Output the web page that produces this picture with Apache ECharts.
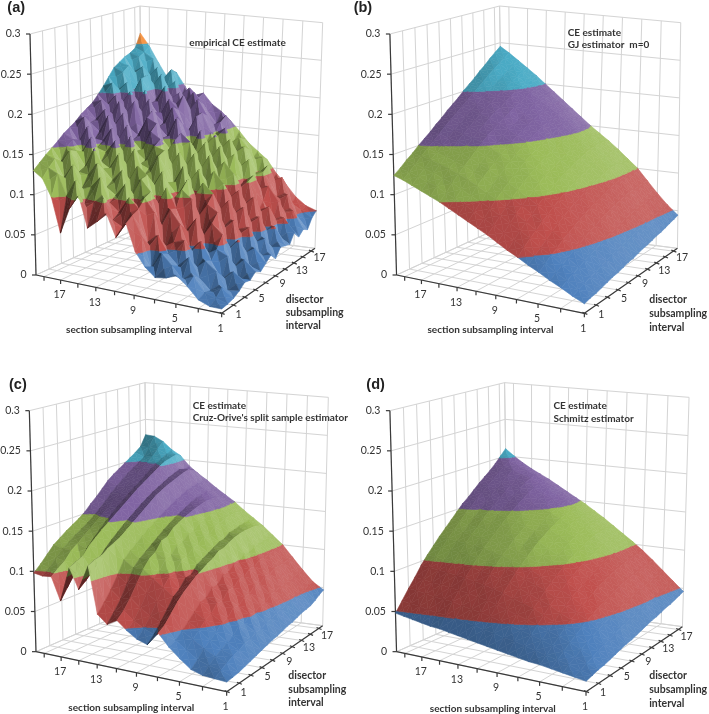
<!DOCTYPE html>
<html><head><meta charset="utf-8">
<style>html,body{margin:0;padding:0;background:#fff}#c{width:709px;height:714px}</style>
<script src="https://cdn.jsdelivr.net/npm/echarts@6/dist/echarts.min.js"></script>
</head><body><div id="c"></div>
<script>
// Rows: disector interval 1..20. Columns: section interval 1..20.
const sectionIntervals = [1,2,3,4,5,6,7,8,9,10,11,12,13,14,15,16,17,18,19,20];
const disectorIntervals = [1,2,3,4,5,6,7,8,9,10,11,12,13,14,15,16,17,18,19,20];
const labelledIntervals = [1,5,9,13,17];
const ceTicks = [0,0.05,0.1,0.15,0.2,0.25,0.3];
const ceTickLabels = ['0','0.05','0.1','0.15','0.2','0.25','0.3'];
const bandColors = ['#4F81BD','#C0504D','#9BBB59','#8064A2','#4BACC6','#F79646'];

const ceEmpirical = [
[.005,.005,.010,.023,.033,.028,.026,.036,.052,.084,.065,.091,.080,.070,.108,.090,.058,.100,.122,.130],
[.006,.010,.014,.030,.024,.038,.050,.030,.066,.090,.074,.080,.104,.098,.095,.122,.100,.126,.132,.137],
[.008,.018,.012,.024,.046,.034,.046,.066,.056,.094,.106,.086,.096,.126,.112,.108,.136,.118,.140,.144],
[.012,.010,.030,.040,.026,.060,.056,.042,.088,.104,.082,.118,.102,.110,.138,.122,.124,.150,.134,.150],
[.018,.028,.016,.036,.058,.044,.074,.090,.068,.108,.122,.096,.130,.116,.128,.152,.128,.146,.150,.156],
[.016,.012,.040,.046,.030,.080,.062,.088,.112,.086,.124,.134,.110,.146,.126,.130,.162,.142,.156,.163],
[.022,.034,.022,.060,.072,.052,.098,.108,.084,.128,.106,.118,.150,.124,.158,.142,.146,.172,.150,.168],
[.018,.022,.052,.038,.082,.090,.070,.118,.096,.110,.142,.124,.128,.162,.134,.170,.152,.150,.180,.173],
[.024,.040,.030,.070,.060,.100,.112,.088,.130,.106,.146,.150,.130,.140,.172,.148,.182,.160,.170,.180],
[.030,.026,.060,.056,.090,.072,.098,.124,.104,.142,.120,.156,.164,.138,.150,.184,.166,.186,.172,.185],
[.022,.044,.036,.080,.070,.106,.120,.096,.140,.118,.154,.132,.172,.178,.154,.162,.196,.172,.194,.190],
[.032,.030,.066,.060,.096,.084,.106,.136,.112,.150,.160,.136,.150,.186,.160,.194,.174,.200,.186,.198],
[.030,.052,.044,.086,.074,.112,.126,.104,.148,.128,.140,.176,.150,.160,.196,.172,.204,.186,.212,.207],
[.028,.034,.072,.066,.102,.092,.110,.142,.120,.160,.134,.166,.186,.164,.176,.204,.180,.212,.200,.217],
[.040,.056,.052,.074,.106,.096,.130,.116,.152,.138,.174,.150,.180,.192,.168,.184,.216,.192,.222,.227],
[.030,.040,.072,.090,.080,.122,.110,.146,.128,.152,.176,.156,.196,.174,.206,.186,.218,.204,.228,.232],
[.036,.058,.056,.078,.104,.100,.134,.124,.156,.148,.170,.190,.166,.196,.184,.218,.198,.226,.218,.237],
[.032,.048,.074,.070,.110,.096,.128,.142,.126,.160,.150,.182,.196,.172,.208,.192,.224,.210,.236,.240],
[.044,.052,.060,.092,.086,.116,.114,.138,.134,.166,.154,.170,.186,.198,.182,.220,.204,.232,.240,.245],
[.050,.055,.065,.080,.093,.110,.120,.130,.144,.157,.168,.176,.190,.178,.196,.214,.206,.225,.246,.263]
];
const ceGundersenJensen = [
[.011,.017,.024,.030,.037,.043,.050,.056,.063,.070,.076,.082,.088,.094,.100,.105,.110,.115,.120,.124],
[.013,.020,.028,.035,.043,.050,.058,.064,.071,.078,.084,.091,.097,.103,.108,.114,.118,.123,.127,.130],
[.014,.023,.032,.040,.049,.056,.065,.072,.079,.086,.093,.099,.105,.111,.117,.121,.126,.130,.134,.137],
[.016,.026,.035,.044,.054,.062,.071,.079,.087,.093,.101,.107,.114,.120,.125,.130,.134,.138,.141,.143],
[.018,.028,.039,.049,.060,.068,.078,.085,.093,.101,.108,.114,.121,.126,.132,.136,.140,.144,.148,.150],
[.020,.031,.042,.053,.064,.074,.083,.092,.100,.108,.115,.121,.128,.133,.139,.143,.147,.151,.154,.156],
[.021,.033,.045,.057,.069,.079,.089,.098,.106,.114,.121,.128,.134,.140,.146,.150,.154,.157,.161,.162],
[.023,.036,.048,.061,.073,.084,.094,.103,.112,.120,.127,.134,.141,.147,.153,.157,.161,.164,.168,.169],
[.025,.038,.051,.064,.077,.088,.099,.108,.117,.125,.133,.140,.146,.152,.159,.163,.167,.170,.174,.175],
[.026,.040,.054,.068,.081,.092,.103,.113,.121,.130,.138,.145,.152,.158,.164,.169,.173,.176,.180,.182],
[.028,.042,.056,.071,.084,.096,.107,.117,.125,.134,.142,.150,.157,.163,.169,.175,.179,.182,.186,.188],
[.030,.044,.058,.074,.087,.099,.110,.120,.129,.138,.146,.154,.161,.167,.174,.180,.184,.188,.192,.194],
[.031,.046,.061,.076,.090,.102,.113,.124,.133,.141,.150,.158,.165,.171,.179,.184,.189,.193,.198,.201],
[.033,.048,.063,.079,.093,.105,.116,.127,.136,.145,.153,.162,.169,.176,.183,.189,.194,.199,.204,.207],
[.035,.050,.065,.081,.095,.108,.119,.130,.139,.148,.157,.165,.173,.180,.187,.194,.199,.204,.210,.213],
[.036,.051,.066,.083,.097,.110,.121,.132,.142,.151,.160,.168,.176,.184,.191,.198,.204,.209,.216,.220],
[.038,.052,.067,.083,.098,.111,.122,.134,.143,.153,.162,.171,.179,.187,.195,.202,.208,.214,.222,.226],
[.040,.054,.068,.084,.099,.111,.123,.134,.144,.153,.163,.172,.180,.189,.197,.204,.212,.219,.227,.233],
[.042,.055,.069,.085,.100,.111,.123,.134,.143,.153,.162,.172,.181,.191,.199,.207,.216,.224,.232,.239],
[.044,.056,.070,.085,.100,.111,.122,.132,.141,.150,.160,.170,.180,.190,.200,.210,.219,.228,.237,.245]
];
const ceCruzOrive = [
[.011,.012,.013,.017,.027,.038,.052,.036,.040,.048,.058,.051,.061,.118,.087,.112,.069,.097,.096,.098],
[.012,.017,.020,.024,.033,.042,.058,.044,.049,.056,.066,.062,.072,.122,.094,.116,.082,.104,.103,.106],
[.013,.021,.026,.033,.041,.049,.068,.055,.060,.068,.078,.074,.084,.124,.102,.120,.094,.110,.112,.115],
[.015,.025,.030,.038,.048,.056,.078,.066,.074,.082,.092,.090,.098,.130,.114,.130,.106,.120,.121,.124],
[.017,.027,.034,.044,.056,.064,.086,.078,.087,.096,.106,.106,.114,.134,.124,.137,.121,.126,.126,.130],
[.019,.031,.038,.052,.060,.072,.092,.084,.097,.102,.116,.114,.122,.138,.132,.144,.130,.133,.132,.136],
[.021,.032,.046,.053,.069,.074,.098,.094,.099,.114,.121,.120,.128,.144,.139,.150,.138,.139,.137,.141],
[.023,.036,.045,.062,.068,.083,.102,.095,.111,.116,.132,.126,.135,.150,.146,.156,.146,.146,.142,.146],
[.025,.036,.052,.060,.078,.083,.107,.104,.112,.125,.134,.132,.141,.156,.152,.162,.153,.152,.148,.152],
[.026,.040,.051,.068,.077,.092,.110,.108,.120,.126,.142,.138,.146,.162,.158,.168,.160,.158,.155,.160],
[.028,.041,.056,.068,.085,.092,.116,.112,.121,.134,.146,.143,.151,.168,.164,.174,.166,.164,.162,.167],
[.030,.044,.056,.075,.084,.099,.117,.116,.128,.135,.150,.148,.156,.174,.169,.180,.172,.171,.170,.175],
[.031,.045,.062,.073,.091,.098,.121,.120,.128,.142,.153,.152,.160,.178,.174,.185,.178,.177,.177,.183],
[.033,.047,.062,.080,.090,.105,.124,.121,.135,.143,.156,.156,.165,.182,.178,.190,.183,.183,.183,.189],
[.035,.049,.065,.079,.096,.104,.126,.126,.136,.148,.158,.160,.168,.185,.182,.195,.189,.189,.189,.194],
[.036,.050,.065,.083,.095,.109,.127,.127,.140,.149,.160,.163,.172,.188,.186,.200,.195,.195,.194,.199],
[.037,.051,.066,.083,.097,.109,.127,.129,.141,.151,.160,.165,.174,.191,.189,.204,.200,.200,.199,.204],
[.040,.053,.067,.083,.098,.110,.127,.130,.142,.151,.160,.167,.176,.193,.192,.206,.204,.206,.204,.209],
[.044,.055,.069,.085,.099,.111,.125,.131,.141,.150,.158,.166,.176,.190,.190,.208,.208,.214,.215,.215],
[.047,.056,.070,.085,.100,.111,.122,.131,.140,.150,.158,.166,.175,.183,.192,.205,.212,.222,.228,.229]
];
const ceSchmitz = [
[.012,.014,.016,.018,.020,.021,.023,.025,.027,.029,.031,.033,.035,.037,.039,.040,.042,.044,.046,.048],
[.014,.017,.021,.024,.027,.030,.033,.036,.038,.041,.043,.046,.048,.050,.052,.053,.055,.057,.058,.060],
[.016,.021,.025,.030,.034,.038,.042,.045,.049,.052,.055,.058,.060,.062,.065,.066,.067,.069,.071,.072],
[.017,.024,.030,.036,.041,.045,.050,.054,.058,.062,.066,.069,.071,.074,.076,.077,.079,.080,.082,.083],
[.019,.027,.034,.041,.047,.052,.058,.064,.068,.072,.077,.080,.083,.085,.088,.089,.091,.092,.094,.095],
[.021,.030,.038,.046,.053,.059,.066,.071,.076,.081,.086,.089,.093,.095,.098,.099,.101,.102,.104,.105],
[.023,.032,.042,.051,.058,.065,.072,.079,.084,.089,.095,.098,.102,.104,.107,.109,.110,.111,.113,.114],
[.025,.035,.045,.055,.063,.071,.078,.085,.091,.097,.102,.106,.110,.113,.116,.117,.119,.120,.122,.123],
[.026,.038,.048,.059,.067,.076,.084,.091,.097,.103,.109,.113,.117,.120,.123,.125,.127,.128,.130,.131],
[.028,.040,.051,.062,.072,.080,.089,.097,.103,.109,.116,.119,.124,.127,.130,.132,.134,.135,.138,.139],
[.030,.042,.054,.065,.076,.084,.094,.102,.108,.115,.122,.125,.130,.134,.137,.139,.142,.143,.146,.147],
[.032,.044,.056,.068,.079,.088,.098,.106,.113,.120,.127,.131,.136,.140,.144,.146,.149,.150,.153,.155],
[.034,.046,.058,.071,.082,.092,.102,.110,.118,.125,.132,.136,.141,.146,.150,.152,.155,.157,.160,.161],
[.035,.048,.060,.073,.085,.095,.105,.114,.122,.129,.136,.141,.146,.151,.156,.158,.161,.164,.166,.168],
[.037,.049,.062,.075,.087,.098,.108,.117,.125,.133,.140,.146,.151,.156,.161,.164,.168,.170,.173,.175],
[.039,.050,.063,.076,.089,.100,.110,.120,.128,.136,.143,.149,.155,.160,.166,.170,.173,.176,.179,.181],
[.040,.052,.065,.078,.090,.101,.111,.121,.130,.138,.145,.152,.158,.164,.170,.175,.178,.182,.185,.187],
[.042,.054,.066,.079,.091,.102,.112,.122,.131,.139,.147,.154,.160,.167,.173,.179,.183,.188,.191,.194],
[.044,.056,.068,.080,.092,.102,.112,.122,.131,.139,.147,.154,.161,.168,.175,.181,.186,.191,.197,.202],
[.046,.058,.070,.082,.093,.103,.112,.121,.130,.138,.146,.153,.160,.167,.174,.180,.186,.193,.201,.210]
];

// Panel geometry is in local units (3 units = 1 px): cube corners and where each text sits.
const panels = [
 {tag:'(a)',values:ceEmpirical,ox:0,oy:0,F:[665,940],L:[108,825],R:[945,745],B:[428,678],TF:[676,160],TL:[90,102],TB:[420,18],TR:[968,68],
  tagPos:[22,25],note:['empirical CE estimate'],notePos:[568,127],notePitch:37,sec:[198,990],dis:[857,898],disPitch:40},
 {tag:'(b)',values:ceGundersenJensen,ox:355,oy:0,F:[690,940],L:[125,825],R:[970,745],B:[446,678],TF:[700,160],TL:[105,102],TB:[435,18],TR:[980,68],
  tagPos:[-4,25],note:['CE estimate','GJ estimator  m=0'],notePos:[640,98],notePitch:37,sec:[218,990],dis:[885,900],disPitch:41},
 {tag:'(c)',values:ceCruzOrive,ox:0,oy:360,F:[680,995],L:[108,875],R:[968,797],B:[443,728],TF:[690,212],TL:[88,152],TB:[435,68],TR:[985,112],
  tagPos:[27,75],note:['CE estimate',"Cruz-Orive's split sample estimator"],notePos:[578,136],notePitch:36,sec:[205,1043],dis:[865,948],disPitch:40},
 {tag:'(d)',values:ceSchmitz,ox:355,oy:360,F:[695,995],L:[125,875],R:[985,800],B:[460,728],TF:[705,212],TL:[105,152],TB:[450,68],TR:[1005,112],
  tagPos:[34,75],note:['CE estimate','Schmitz estimator'],notePos:[597,136],notePitch:40,sec:[225,1045],dis:[885,948],disPitch:41}
];
const maxCE = 0.3, heightScale = 80, N = 20;
const UI = 'Lato, "Open Sans", sans-serif';

function homography(p0,p1,p2,p3){
  const dx1=p1[0]-p2[0],dx2=p3[0]-p2[0],sx=p0[0]-p1[0]+p2[0]-p3[0];
  const dy1=p1[1]-p2[1],dy2=p3[1]-p2[1],sy=p0[1]-p1[1]+p2[1]-p3[1];
  const den=dx1*dy2-dx2*dy1;
  const g=(sx*dy2-dx2*sy)/den,h=(dx1*sy-sx*dy1)/den;
  const a=p1[0]-p0[0]+g*p1[0],b=p3[0]-p0[0]+h*p3[0];
  const d=p1[1]-p0[1]+g*p1[1],e=p3[1]-p0[1]+h*p3[1];
  return (u,v)=>{const w=g*u+h*v+1;return [(a*u+b*v+p0[0])/w,(d*u+e*v+p0[1])/w];};
}
panels.forEach(p=>{
  const floor=homography(p.F,p.L,p.B,p.R), top=homography(p.TF,p.TL,p.TB,p.TR);
  // s: section interval, d: disector interval, z: CE value
  p.project=(s,d,z)=>{
    const u=(s-1)/(N-1),v=(d-1)/(N-1),t=z/maxCE;
    const a=floor(u,v),b=top(u,v);
    return [a[0]+(b[0]-a[0])*t,a[1]+(b[1]-a[1])*t];
  };
});

function clipBand(poly,lo,hi){
  const cut=(pts,limit,keepAbove)=>{
    const out=[];
    for(let i=0;i<pts.length;i++){
      const a=pts[i],b=pts[(i+1)%pts.length];
      const ia=keepAbove?a[2]>=limit:a[2]<=limit, ib=keepAbove?b[2]>=limit:b[2]<=limit;
      if(ia)out.push(a);
      if(ia!==ib){const t=(limit-a[2])/(b[2]-a[2]);out.push([a[0]+(b[0]-a[0])*t,a[1]+(b[1]-a[1])*t,limit]);}
    }
    return out;
  };
  const x=cut(poly,lo,true);
  return x.length?cut(x,hi,false):x;
}
function hexRgb(h){return [1,3,5].map(i=>parseInt(h.substr(i,2),16));}
function shade(hex,f){
  const c=hexRgb(hex);
  const r=f<=1?c.map(v=>v*f):c.map(v=>v+(255-v)*Math.min(1,(f-1)*.8));
  return 'rgb('+r.map(Math.round).join(',')+')';
}
function lightOf(a,b,c){
  const ux=b[0]-a[0],uy=b[1]-a[1],uz=(b[2]-a[2])*heightScale,vx=c[0]-a[0],vy=c[1]-a[1],vz=(c[2]-a[2])*heightScale;
  let nx=uy*vz-uz*vy,ny=uz*vx-ux*vz,nz=ux*vy-uy*vx;
  const l=Math.hypot(nx,ny,nz)*(nz<0?-1:1);nx/=l;ny/=l;
  return Math.max(.35,Math.min(1.5,1+.5*((-nx*.8+ny*.6)-.24)));
}
function surfaceRenderer(panel){
  return (params,api)=>{
    const s=api.value(0),d=api.value(1),V=panel.values;
    const at=(i,j)=>[i,j,V[j-1][i-1]];
    const c00=at(s,d),c10=at(s+1,d),c11=at(s+1,d+1),c01=at(s,d+1);
    const mid=[s+.5,d+.5,(c00[2]+c10[2]+c11[2]+c01[2])/4];
    const tris=[[c11,c10,mid],[c01,c11,mid],[c00,c01,mid],[c10,c00,mid]];
    const children=[];
    tris.forEach(t=>{
      const f=lightOf(t[0],t[1],t[2]);
      bandColors.forEach((col,k)=>{
        const lo=ceTicks[k],hi=ceTicks[k+1];
        const poly=clipBand(t,lo,hi);
        if(poly.length<3)return;
        const pts=poly.map(q=>api.coord(panel.project(q[0],q[1],q[2])));
        const fill=shade(col,f);
        children.push({type:'polygon',shape:{points:pts},style:{fill:fill,stroke:fill,lineWidth:.6}});
      });
    });
    return {type:'group',children:children};
  };
}
function frameRenderer(panel){
  return (params,api)=>{
    const P=(s,d,z)=>api.coord(panel.project(s,d,z));
    const kids=[];
    const line=(a,b,stroke,w)=>kids.push({type:'line',shape:{x1:a[0],y1:a[1],x2:b[0],y2:b[1]},style:{stroke:stroke,lineWidth:w}});
    const grid='#d4d4d4';
    const tickCats=sectionIntervals.filter(v=>v%2===1).concat([N]);
    ceTicks.forEach(z=>{
      line(P(N,1,z),P(N,N,z),grid,1);
      line(P(N,N,z),P(1,N,z),grid,1);
    });
    tickCats.forEach(c=>{
      line(P(N,c,0),P(N,c,maxCE),grid,1);
      line(P(c,N,0),P(c,N,maxCE),grid,1);
      line(P(c,1,0),P(c,N,0),grid,1);
      line(P(1,c,0),P(N,c,0),grid,1);
    });
    const dark='#3a3a3a';
    line(P(N,1,0),P(N,1,maxCE),dark,1.2);
    line(P(1,1,0),P(N,1,0),dark,1.2);
    line(P(1,1,0),P(1,N,0),dark,1.2);
    ceTicks.forEach((z,i)=>{
      const a=P(N,1,z);
      line([a[0]-4,a[1]],a,dark,1.2);
      kids.push({type:'text',style:{text:ceTickLabels[i],x:a[0]-9.5,y:a[1],align:'right',verticalAlign:'middle',font:'10.5px '+UI,fill:'#333'}});
    });
    tickCats.slice(0,-1).forEach(c=>{
      const a=P(c,1,0);line(a,[a[0],a[1]+4],dark,1.2);
      const b=P(1,c,0);line([b[0]-2,b[1]-1],[b[0]+3,b[1]+1],dark,1.2);
    });
    labelledIntervals.forEach(c=>{
      const a=P(c,1,0);
      kids.push({type:'text',style:{text:String(c),x:a[0]-1,y:a[1]+15,align:'center',verticalAlign:'middle',font:'10.5px '+UI,fill:'#333'}});
      const b=P(1,c,0);
      kids.push({type:'text',style:{text:String(c),x:b[0]+17,y:b[1]+1,align:'center',verticalAlign:'middle',font:'10.5px '+UI,fill:'#333'}});
    });
    return {type:'group',children:kids};
  };
}
function labelRenderer(panel){
  return (params,api)=>{
    const kids=[];
    const txt=(t,pos,font,fill)=>{const a=api.coord(pos);kids.push({type:'text',style:{text:t,x:a[0],y:a[1],align:'left',verticalAlign:'middle',font:font,fill:fill}});};
    txt(panel.tag,panel.tagPos,'bold 14.5px "Liberation Sans", Arial, sans-serif','#222');
    panel.note.forEach((t,i)=>txt(t,[panel.notePos[0],panel.notePos[1]+i*panel.notePitch],'bold 10px '+UI,'#333'));
    txt('section subsampling interval',panel.sec,'bold 10px '+UI,'#333');
    ['disector','subsampling','interval'].forEach((t,i)=>txt(t,[panel.dis[0],panel.dis[1]+i*panel.disPitch],'bold 10.5px '+UI,'#333'));
    return {type:'group',children:kids};
  };
}
// back-to-front cell order so nearer facets paint over farther ones
const cells=[];
for(let s=N-1;s>=1;s--)for(let d=N-1;d>=1;d--)cells.push([s,d]);

const grids=[],xAxes=[],yAxes=[],series=[];
panels.forEach((p,i)=>{
  grids.push({left:p.ox,top:p.oy,width:355,height:354,show:false});
  xAxes.push({type:'value',gridIndex:i,min:0,max:1065,show:false});
  yAxes.push({type:'value',gridIndex:i,min:0,max:1062,inverse:true,show:false});
  const base={type:'custom',coordinateSystem:'cartesian2d',xAxisIndex:i,yAxisIndex:i,silent:true,animation:false,progressive:0,clip:false};
  series.push(Object.assign({},base,{name:p.tag+' frame',data:[[0,0]],renderItem:frameRenderer(p)}));
  series.push(Object.assign({},base,{name:p.tag+' surface',data:cells,renderItem:surfaceRenderer(p)}));
  series.push(Object.assign({},base,{name:p.tag+' labels',data:[[0,0]],renderItem:labelRenderer(p)}));
});
const chart=echarts.init(document.getElementById('c'));
chart.setOption({animation:false,backgroundColor:'#fff',grid:grids,xAxis:xAxes,yAxis:yAxes,series:series,tooltip:{show:false}});
</script></body></html>
